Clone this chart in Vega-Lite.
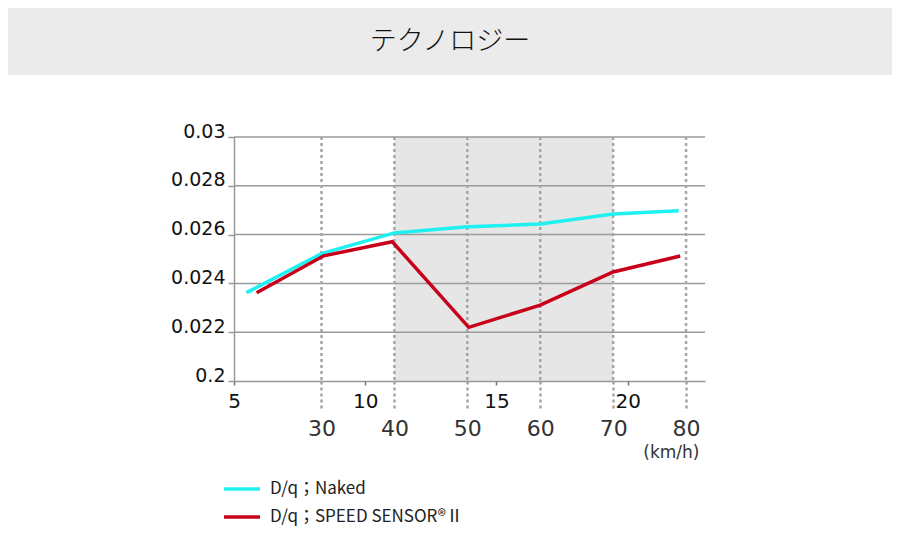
{
  "$schema": "https://vega.github.io/schema/vega-lite/v6.json",
  "padding": {"left": 8, "top": 8, "right": 8, "bottom": 8},
  "background": "white",
  "bounds": "flush",
  "spacing": 62,
  "config": {"view": {"stroke": null}},
  "vconcat": [
    {
      "width": 884,
      "height": 67,
      "view": {"fill": "#ebebeb", "stroke": null},
      "data": {"values": [{"title": "テクノロジー"}]},
      "mark": {"type": "text", "font": "Noto Sans CJK JP", "fontSize": 27, "fontWeight": 300, "color": "#111"},
      "encoding": {"text": {"field": "title"}}
    },
    {
      "bounds": "flush",
      "spacing": 26,
      "hconcat": [
        {
          "width": 200,
          "height": 244,
          "data": {"values": []},
          "mark": {"type": "point", "opacity": 0}
        },
        {
          "width": 471,
          "height": 244,
          "resolve": {"axis": {"x": "independent"}},
          "layer": [
            {
              "data": {"values": [{"from": 40, "to": 70}]},
              "mark": {"type": "rect", "color": "#e6e6e6"},
              "encoding": {
                "x": {
                  "field": "from", "type": "quantitative",
                  "scale": {"domain": [18, 82.6], "nice": false, "zero": false},
                  "axis": {
                    "orient": "bottom", "values": [30, 40, 50, 60, 70, 80],
                    "grid": false, "domain": true, "domainColor": "#999", "domainWidth": 1.5,
                    "ticks": true, "tickSize": 27, "tickDash": [3, 3], "tickColor": "#a6a6a6", "tickWidth": 2.5,
                    "labelFont": "DejaVu Sans", "labelFontSize": 22, "labelColor": "#333",
                    "labelPadding": 10, "labelFlush": false, "labelOverlap": false,
                    "title": "(km/h)", "titleFont": "DejaVu Sans", "titleFontSize": 17,
                    "titleFontWeight": "normal", "titleColor": "#333",
                    "titleAlign": "right", "titleBaseline": "top", "titleX": 465, "titleY": 63,
                    "zindex": 1
                  }
                },
                "x2": {"field": "to"}
              }
            },
            {
              "data": {"values": [{"g": 0.022}, {"g": 0.024}, {"g": 0.026}, {"g": 0.028}, {"g": 0.03}]},
              "mark": {"type": "rule", "color": "#9a9a9a", "strokeWidth": 1.5},
              "encoding": {
                "y": {"field": "g", "type": "quantitative", "title": null,
                      "scale": {"domain": [0.02, 0.03], "nice": false, "zero": false}}
              }
            },
            {
              "data": {"values": [{"v": 30}, {"v": 40}, {"v": 50}, {"v": 60}, {"v": 70}, {"v": 80}]},
              "mark": {"type": "rule", "color": "#a6a6a6", "strokeWidth": 2.5, "strokeDash": [3, 3]},
              "encoding": {
                "x": {"field": "v", "type": "quantitative", "axis": null,
                      "scale": {"domain": [18, 82.6], "nice": false, "zero": false}}
              }
            },
            {
              "data": {
                "values": [
                  {"series": "D/q；Naked", "kmh": 19.7, "dq": 0.02362},
                  {"series": "D/q；Naked", "kmh": 30, "dq": 0.02522},
                  {"series": "D/q；Naked", "kmh": 40, "dq": 0.02607},
                  {"series": "D/q；Naked", "kmh": 50, "dq": 0.02632},
                  {"series": "D/q；Naked", "kmh": 60, "dq": 0.02643},
                  {"series": "D/q；Naked", "kmh": 70, "dq": 0.02684},
                  {"series": "D/q；Naked", "kmh": 79, "dq": 0.02698},
                  {"series": "D/q；SPEED SENSOR®Ⅱ", "kmh": 21.1, "dq": 0.02362},
                  {"series": "D/q；SPEED SENSOR®Ⅱ", "kmh": 30.3, "dq": 0.02513},
                  {"series": "D/q；SPEED SENSOR®Ⅱ", "kmh": 39.7, "dq": 0.02571},
                  {"series": "D/q；SPEED SENSOR®Ⅱ", "kmh": 50.2, "dq": 0.0222},
                  {"series": "D/q；SPEED SENSOR®Ⅱ", "kmh": 60, "dq": 0.02311},
                  {"series": "D/q；SPEED SENSOR®Ⅱ", "kmh": 70, "dq": 0.02447},
                  {"series": "D/q；SPEED SENSOR®Ⅱ", "kmh": 79.2, "dq": 0.02512}
                ]
              },
              "mark": {"type": "line", "strokeWidth": 3.5},
              "encoding": {
                "x": {
                  "field": "kmh", "type": "quantitative",
                  "scale": {"domain": [18, 82.6], "nice": false, "zero": false},
                  "axis": {
                    "orient": "bottom", "values": [18, 36, 54, 72],
                    "labelExpr": "format(datum.value / 3.6, 'd')",
                    "grid": false, "domain": false,
                    "ticks": true, "tickSize": 4, "tickColor": "#777", "tickWidth": 1.5,
                    "labelFont": "DejaVu Sans", "labelFontSize": 20, "labelColor": "#111",
                    "labelPadding": 6, "labelFlush": false, "labelOverlap": false,
                    "title": null, "zindex": 1
                  }
                },
                "y": {
                  "field": "dq", "type": "quantitative", "title": null,
                  "scale": {"domain": [0.02, 0.03], "nice": false, "zero": false},
                  "axis": {
                    "values": [0.02, 0.022, 0.024, 0.026, 0.028, 0.03],
                    "labelExpr": "datum.value < 0.021 ? '0.2' : format(datum.value, '~g')",
                    "grid": false, "domainColor": "#999", "domainWidth": 1.5,
                    "tickColor": "#999", "tickSize": 6, "tickWidth": 1.5,
                    "labelFont": "DejaVu Sans", "labelFontSize": 19, "labelColor": "#111",
                    "labelPadding": 3, "labelOffset": -6, "labelOverlap": false,
                    "zindex": 1
                  }
                },
                "color": {
                  "field": "series", "type": "nominal",
                  "scale": {"domain": ["D/q；Naked", "D/q；SPEED SENSOR®Ⅱ"], "range": ["#1ff0f0", "#c8001a"]},
                  "legend": {
                    "orient": "none", "legendX": 214, "legendY": 461, "padding": 0,
                    "title": null, "symbolType": "stroke", "symbolStrokeWidth": 3.5, "symbolSize": 1300,
                    "labelFont": "Noto Sans CJK JP", "labelFontSize": 17, "labelColor": "#222",
                    "labelOffset": 8, "labelLimit": 400, "rowPadding": -11
                  }
                }
              }
            }
          ]
        }
      ]
    }
  ]
}
